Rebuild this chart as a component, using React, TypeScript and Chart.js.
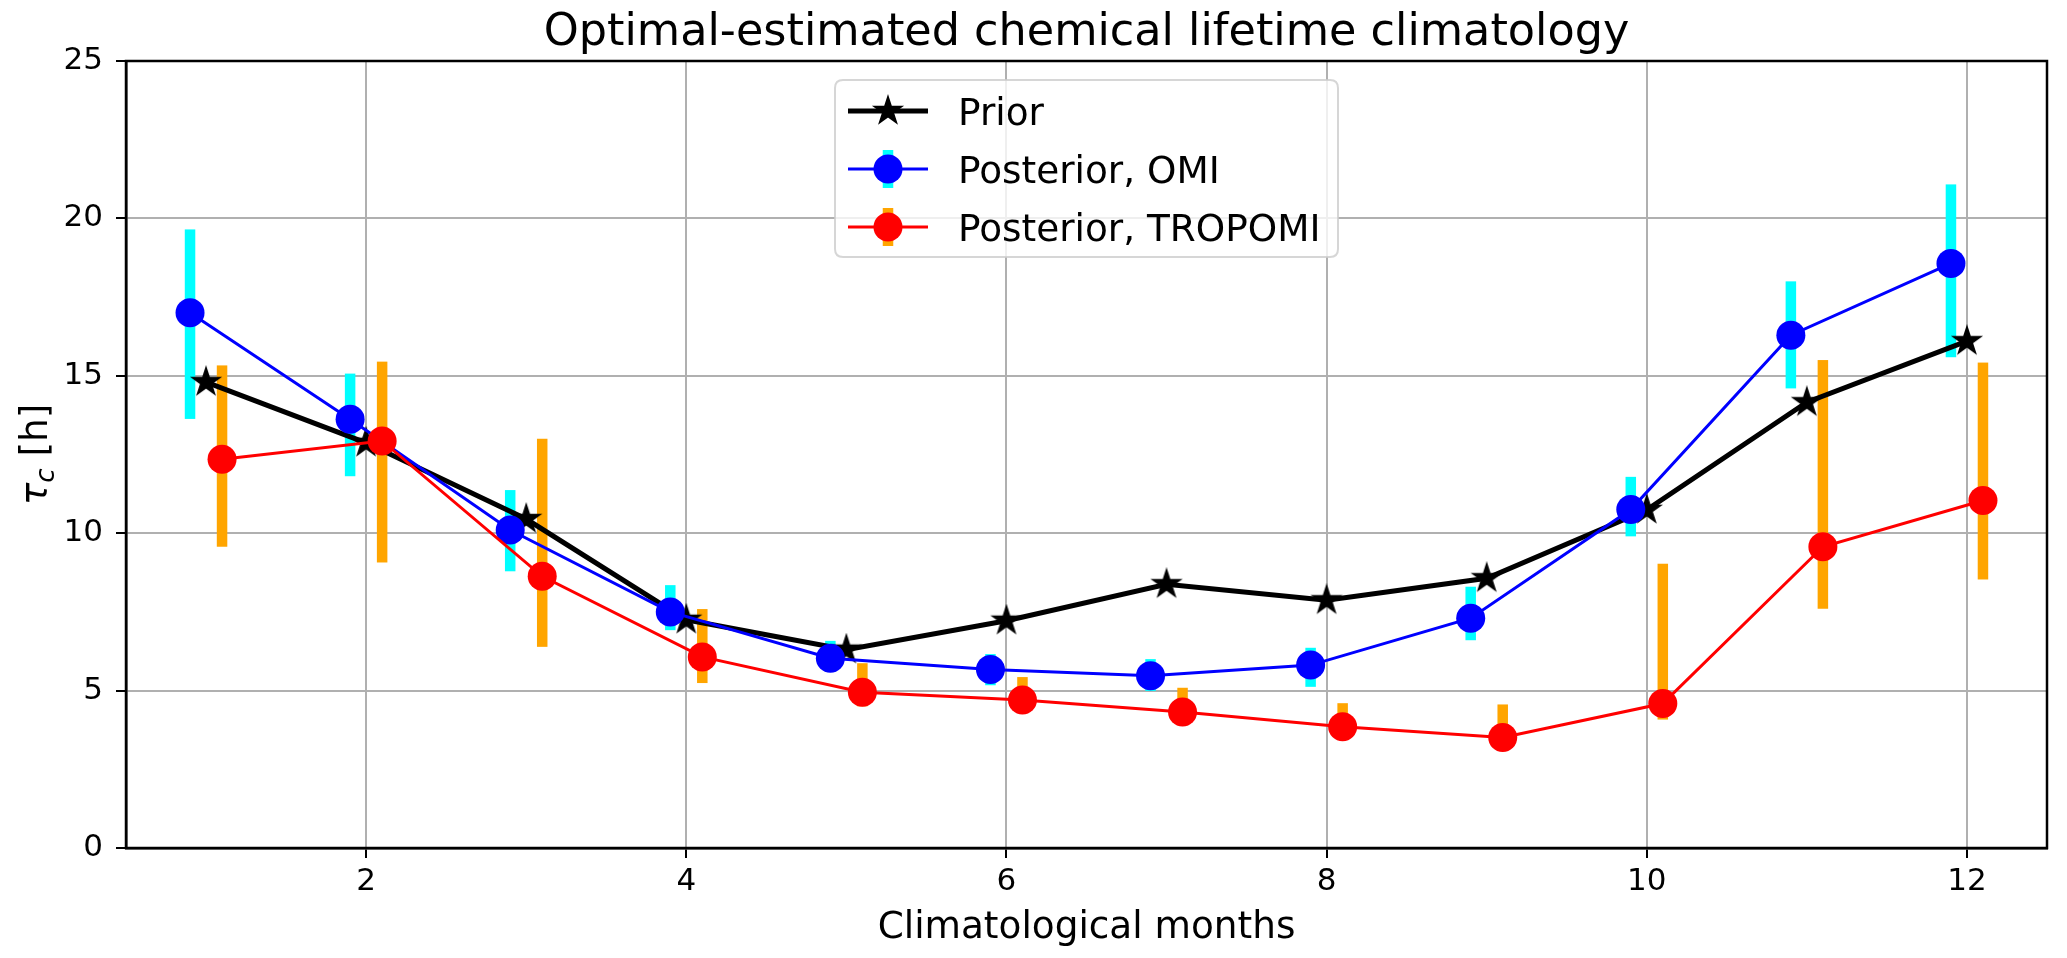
import React, { useEffect, useRef } from "react";
import { Chart, registerables } from "chart.js";

Chart.register(...registerables);

// ---- data ----
const months = [1, 2, 3, 4, 5, 6, 7, 8, 9, 10, 11, 12];
const xTicks = [2, 4, 6, 8, 10, 12];
const yTicks = [0, 5, 10, 15, 20, 25];

const priorValues = [14.8, 12.87, 10.45, 7.25, 6.3, 7.22, 8.38, 7.87, 8.57, 10.74, 14.16, 16.1];

const omiValues = [17.0, 13.62, 10.1, 7.5, 6.03, 5.67, 5.47, 5.81, 7.3, 10.75, 16.29, 18.57];
const omiLow = [13.63, 11.81, 8.79, 6.92, 5.6, 5.17, 4.99, 5.12, 6.6, 9.9, 14.6, 15.59];
const omiHigh = [19.65, 15.07, 11.37, 8.35, 6.58, 6.16, 6.0, 6.36, 8.3, 11.79, 18.0, 21.08];

const tropomiValues = [12.35, 12.93, 8.63, 6.07, 4.95, 4.7, 4.32, 3.85, 3.51, 4.59, 9.57, 11.04];
const tropomiLow = [9.57, 9.07, 6.39, 5.24, 4.5, 4.3, 3.9, 3.5, 3.1, 4.08, 7.6, 8.53];
const tropomiHigh = [15.33, 15.45, 13.0, 7.59, 5.87, 5.43, 5.09, 4.6, 4.56, 9.03, 15.5, 15.42];

const seriesLabels = ["Prior", "Posterior, OMI", "Posterior, TROPOMI"];
const titleText = "Optimal-estimated chemical lifetime climatology";
const xLabelText = "Climatological months";

// ---- style ----
const W = 2067;
const H = 958;
const FONT = "'DejaVu Sans', 'Liberation Sans', sans-serif";
const SHIFT = 0.1;
const TICK_PX = 31;
const LABEL_PX = 37.4;
const TITLE_PX = 44.5;
const CYAN = "#00ffff";
const ORANGE = "#ffa500";
const BAR_W = 10.5;
const STAR_R = 14.5;
const DOT_R = 14.5;

function starPath(ctx: CanvasRenderingContext2D, cx: number, cy: number, R: number) {
  const r = R * 0.381966;
  ctx.beginPath();
  for (let i = 0; i < 10; i++) {
    const ang = -Math.PI / 2 + (i * Math.PI) / 5;
    const rad = i % 2 === 0 ? R : r;
    const px = cx + rad * Math.cos(ang);
    const py = cy + rad * Math.sin(ang);
    if (i === 0) ctx.moveTo(px, py);
    else ctx.lineTo(px, py);
  }
  ctx.closePath();
}

function drawStar(ctx: CanvasRenderingContext2D, cx: number, cy: number, R: number) {
  starPath(ctx, cx, cy, R);
  ctx.fillStyle = "#000";
  ctx.fill();
  ctx.lineWidth = 1.5;
  ctx.strokeStyle = "#000";
  ctx.lineJoin = "miter";
  ctx.stroke();
}

function makeStarImage(): HTMLCanvasElement {
  const c = document.createElement("canvas");
  c.width = 34;
  c.height = 34;
  const g = c.getContext("2d")!;
  drawStar(g, 17, 17, STAR_R);
  return c;
}

const errorBarPlugin = {
  id: "errorBars",
  beforeDatasetsDraw(chart: any) {
    const { ctx, scales } = chart;
    const x = scales.x;
    const y = scales.y;
    ctx.save();
    const draw = (shift: number, lo: number[], hi: number[], color: string) => {
      ctx.fillStyle = color;
      months.forEach((m, i) => {
        const px = x.getPixelForValue(m + shift);
        const top = y.getPixelForValue(hi[i]);
        const bot = y.getPixelForValue(lo[i]);
        ctx.fillRect(px - BAR_W / 2, top, BAR_W, bot - top);
      });
    };
    draw(-SHIFT, omiLow, omiHigh, CYAN);
    draw(SHIFT, tropomiLow, tropomiHigh, ORANGE);
    ctx.restore();
  },
};

const framePlugin = {
  id: "frameAndText",
  afterDatasetsDraw(chart: any) {
    const { ctx, chartArea: a } = chart;
    ctx.save();
    ctx.strokeStyle = "#000";
    ctx.lineWidth = 2.5;
    ctx.strokeRect(a.left, a.top, a.right - a.left, a.bottom - a.top);
    ctx.restore();
  },
  afterDraw(chart: any) {
    const { ctx, chartArea: a } = chart;
    const cx = (a.left + a.right) / 2;
    ctx.save();
    ctx.fillStyle = "#000";
    // title
    ctx.font = `${TITLE_PX}px ${FONT}`;
    ctx.textAlign = "center";
    ctx.textBaseline = "alphabetic";
    ctx.fillText(titleText, cx, 45);
    // x label
    ctx.font = `${LABEL_PX}px ${FONT}`;
    ctx.fillText(xLabelText, cx, 938);
    // y label: tau_c [h]
    const cy = (a.top + a.bottom) / 2;
    const fItal = `italic ${LABEL_PX}px ${FONT}`;
    const fSub = `italic ${LABEL_PX * 0.7}px ${FONT}`;
    const fReg = `${LABEL_PX}px ${FONT}`;
    ctx.font = fItal;
    const wTau = ctx.measureText("τ").width;
    ctx.font = fSub;
    const wC = ctx.measureText("c").width;
    ctx.font = fReg;
    const wRest = ctx.measureText(" [h]").width;
    const total = wTau + wC + wRest;
    ctx.translate(47, cy);
    ctx.rotate(-Math.PI / 2);
    ctx.textAlign = "left";
    let xx = -total / 2;
    ctx.font = fItal;
    ctx.fillText("τ", xx, 0);
    xx += wTau;
    ctx.font = fSub;
    ctx.fillText("c", xx, LABEL_PX * 0.2);
    xx += wC;
    ctx.font = fReg;
    ctx.fillText(" [h]", xx, 0);
    ctx.restore();

    // legend
    ctx.save();
    const bx = 835, by = 80, bw = 503, bh = 177, rr = 8;
    ctx.beginPath();
    ctx.moveTo(bx + rr, by);
    ctx.lineTo(bx + bw - rr, by);
    ctx.quadraticCurveTo(bx + bw, by, bx + bw, by + rr);
    ctx.lineTo(bx + bw, by + bh - rr);
    ctx.quadraticCurveTo(bx + bw, by + bh, bx + bw - rr, by + bh);
    ctx.lineTo(bx + rr, by + bh);
    ctx.quadraticCurveTo(bx, by + bh, bx, by + bh - rr);
    ctx.lineTo(bx, by + rr);
    ctx.quadraticCurveTo(bx, by, bx + rr, by);
    ctx.closePath();
    ctx.fillStyle = "rgba(255,255,255,0.8)";
    ctx.fill();
    ctx.strokeStyle = "rgba(204,204,204,0.8)";
    ctx.lineWidth = 2;
    ctx.stroke();

    const rows = [111, 169, 227];
    const hx0 = 848, hx1 = 928, hm = 888, tx = 958;
    // Prior
    ctx.strokeStyle = "#000";
    ctx.lineWidth = 5;
    ctx.lineCap = "butt";
    ctx.beginPath();
    ctx.moveTo(hx0, rows[0]);
    ctx.lineTo(hx1, rows[0]);
    ctx.stroke();
    drawStar(ctx, hm, rows[0], STAR_R);
    // OMI / TROPOMI
    const entries = [
      { y: rows[1], bar: CYAN, col: "#0000ff" },
      { y: rows[2], bar: ORANGE, col: "#ff0000" },
    ];
    entries.forEach((e) => {
      ctx.fillStyle = e.bar;
      ctx.fillRect(hm - BAR_W / 2, e.y - 19, BAR_W, 38);
      ctx.strokeStyle = e.col;
      ctx.lineWidth = 3;
      ctx.beginPath();
      ctx.moveTo(hx0, e.y);
      ctx.lineTo(hx1, e.y);
      ctx.stroke();
      ctx.fillStyle = e.col;
      ctx.beginPath();
      ctx.arc(hm, e.y, DOT_R, 0, Math.PI * 2);
      ctx.fill();
    });
    ctx.fillStyle = "#000";
    ctx.font = `${LABEL_PX}px ${FONT}`;
    ctx.textAlign = "left";
    ctx.textBaseline = "alphabetic";
    const capHalf = LABEL_PX * 0.729 / 2;
    seriesLabels.forEach((t, i) => ctx.fillText(t, tx, rows[i] + capHalf));
    ctx.restore();
  },
};

export default function App() {
  const ref = useRef<HTMLCanvasElement | null>(null);
  useEffect(() => {
    if (!ref.current) return;
    const starImg = makeStarImage();
    const chart = new Chart(ref.current, {
      type: "line",
      data: {
        datasets: [
          {
            label: seriesLabels[0],
            data: months.map((m, i) => ({ x: m, y: priorValues[i] })),
            borderColor: "#000",
            backgroundColor: "#000",
            borderWidth: 5,
            pointStyle: starImg as any,
            pointRadius: STAR_R,
            order: 3,
          },
          {
            label: seriesLabels[1],
            data: months.map((m, i) => ({ x: m - SHIFT, y: omiValues[i] })),
            borderColor: "#0000ff",
            backgroundColor: "#0000ff",
            borderWidth: 3,
            pointStyle: "circle",
            pointRadius: DOT_R,
            pointBorderWidth: 0,
            order: 2,
          },
          {
            label: seriesLabels[2],
            data: months.map((m, i) => ({ x: m + SHIFT, y: tropomiValues[i] })),
            borderColor: "#ff0000",
            backgroundColor: "#ff0000",
            borderWidth: 3,
            pointStyle: "circle",
            pointRadius: DOT_R,
            pointBorderWidth: 0,
            order: 1,
          },
        ],
      },
      options: {
        responsive: false,
        animation: false,
        devicePixelRatio: 1,
        layout: { padding: { top: 61, right: 20, left: 0, bottom: 0 } },
        plugins: {
          legend: { display: false },
          title: { display: false },
          tooltip: { enabled: false },
        },
        elements: { line: { tension: 0 } },
        scales: {
          x: {
            type: "linear",
            min: 0.5,
            max: 12.5,
            afterBuildTicks: (s: any) => {
              s.ticks = xTicks.map((v) => ({ value: v }));
            },
            afterFit: (s: any) => {
              s.height = H - 848;
            },
            grid: {
              color: "#b0b0b0",
              lineWidth: 2,
              tickColor: "#000",
              tickWidth: 2,
              tickLength: 10,
              drawTicks: true,
            },
            border: { display: true, color: "#000", width: 2.5 },
            ticks: {
              color: "#000",
              font: { family: FONT, size: TICK_PX },
              padding: 5,
              maxRotation: 0,
              autoSkip: false,
            },
          },
          y: {
            type: "linear",
            min: 0,
            max: 25,
            afterBuildTicks: (s: any) => {
              s.ticks = yTicks.map((v) => ({ value: v }));
            },
            afterFit: (s: any) => {
              s.width = 126;
            },
            grid: {
              color: "#b0b0b0",
              lineWidth: 2,
              tickColor: "#000",
              tickWidth: 2,
              tickLength: 10,
              drawTicks: true,
            },
            border: { display: true, color: "#000", width: 2.5 },
            ticks: {
              color: "#000",
              font: { family: FONT, size: TICK_PX },
              padding: 13,
              autoSkip: false,
            },
          },
        },
      },
      plugins: [errorBarPlugin, framePlugin],
    } as any);
    return () => chart.destroy();
  }, []);
  return (
    <div style={{ position: "fixed", left: 0, top: 0, width: W, height: H, background: "#fff" }}>
      <canvas ref={ref} width={W} height={H} style={{ width: W, height: H, display: "block" }} />
    </div>
  );
}
